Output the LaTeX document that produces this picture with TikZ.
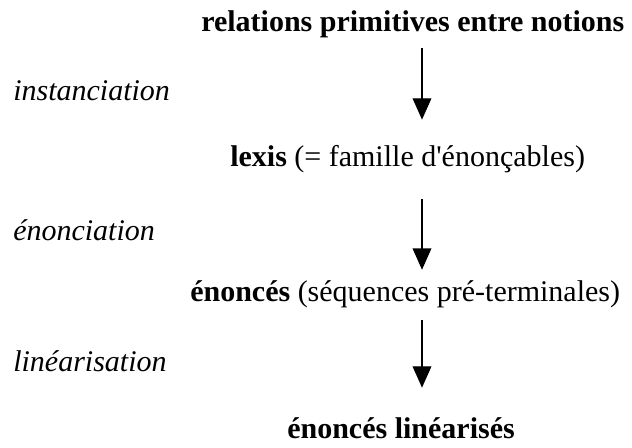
\documentclass[tikz,border=0pt]{standalone}
\usepackage{fontspec}
\setmainfont{Liberation Serif}
\usetikzlibrary{arrows.meta}

\tikzset{
  stage/.style={font=\fontsize{22.5pt}{27pt}\selectfont, inner sep=0pt, text height=16.9pt, text depth=5.6pt},
  oplabel/.style={font=\fontsize{22.5pt}{27pt}\selectfont\itshape, inner sep=0pt, anchor=base west},
  derive/.style={line width=1pt, -{Triangle[width=14pt,length=16pt]}}
}

\begin{document}
\begin{tikzpicture}[x=0.75pt,y=-0.75pt]
\useasboundingbox (0,0) rectangle (632,448);
%the nodes
\node [stage,anchor=base west] (relPrim) at (201,32) {\textbf{relations primitives entre notions}};
\node [stage,anchor=base west] (lexis) at (230,167) {\textbf{lexis} (= famille d\textquotesingle énonçables)};
\node [stage,anchor=base west] (enonces) at (190,302) {\textbf{énoncés} (séquences pré-terminales)};
\node [stage,anchor=base] (enoncesLin) at (401,439) {\textbf{énoncés linéarisés}};
%labels of the steps
\node [oplabel] (labInst) at (13,101) {instanciation};
\node [oplabel] (labEnon) at (13,241) {énonciation};
\node [oplabel] (labLin) at (13,372) {linéarisation};
%drawings of arrows
\coordinate (axis) at (422,0);
\draw[derive, shorten <=6.4pt, shorten >=18.4pt] (relPrim.south -| axis) -- (lexis.north -| axis);
\draw[derive, shorten <=18.4pt, shorten >=7.1pt] (lexis.south -| axis) -- (enonces.north -| axis);
\draw[derive, shorten <=7.9pt, shorten >=21.4pt] (enonces.south -| axis) -- (enoncesLin.north -| axis);
\end{tikzpicture}
\end{document}
